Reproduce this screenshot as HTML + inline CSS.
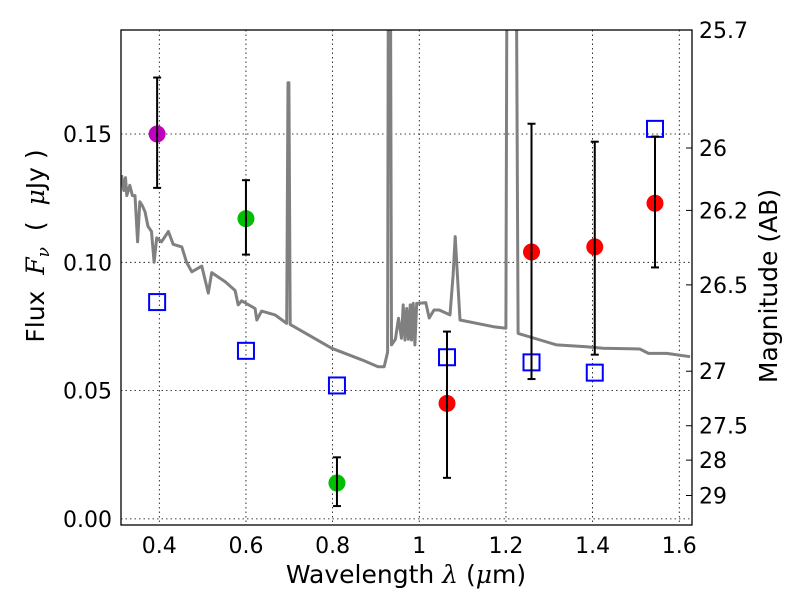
<!DOCTYPE html>
<html><head><meta charset="utf-8"><style>
body{margin:0;background:#fff}
svg{display:block;font-family:"DejaVu Sans","Liberation Sans",sans-serif}
</style></head><body>
<svg id="chart" width="800" height="600" viewBox="0 0 800 600">
<rect width="800" height="600" fill="#fff"/>
<defs><clipPath id="plotclip"><rect x="121" y="30" width="571" height="495"/></clipPath></defs>
<g id="grid"></g>
<g id="spec" clip-path="url(#plotclip)"></g>
<g id="marks" clip-path="url(#plotclip)"></g>
<rect x="121" y="30" width="571" height="495" fill="none" stroke="#000" stroke-width="1.3"/>
<g id="axes" font-size="22" fill="#000"></g>
<text x="406" y="583" font-size="25" text-anchor="middle">Wavelength  <tspan font-family="DejaVu Serif,serif" font-style="italic">λ</tspan> (<tspan font-family="DejaVu Serif,serif" font-style="italic">μ</tspan>m)</text>
<text transform="translate(44,246) rotate(-90)" font-size="25" text-anchor="middle" xml:space="preserve">Flux  <tspan font-family="DejaVu Serif,serif" font-style="italic">F<tspan font-size="17" dy="5">ν</tspan></tspan><tspan dy="-5">  (  </tspan><tspan font-family="DejaVu Serif,serif" font-style="italic">μ</tspan>Jy )</text>
<text transform="translate(777,286) rotate(-90)" font-size="25" text-anchor="middle">Magnitude (AB)</text>
</svg>
<script>
const xTicks=[0.4,0.6,0.8,1.0,1.2,1.4,1.6];
const xTickLabels=["0.4","0.6","0.8","1","1.2","1.4","1.6"];
const yTicks=[0,0.05,0.10,0.15];
const yTickLabels=["0.00","0.05","0.10","0.15"];
const magTicks=[25.7,26,26.2,26.5,27,27.5,28,29];
const magTickLabels=["25.7","26","26.2","26.5","27","27.5","28","29"];
const specLam=[0.313,0.318,0.322,0.325,0.332,0.338,0.344,0.350,0.355,0.361,0.367,0.374,0.382,0.388,0.394,0.405,0.421,0.432,0.452,0.463,0.475,0.498,0.513,0.521,0.552,0.575,0.582,0.590,0.621,0.625,0.636,0.667,0.694,0.697,0.699,0.702,0.711,0.798,0.867,0.905,0.919,0.927,0.929,0.933,0.936,0.945,0.952,0.959,0.963,0.967,0.971,0.975,0.979,0.982,0.986,0.990,0.994,0.998,1.015,1.023,1.034,1.046,1.071,1.078,1.083,1.088,1.094,1.171,1.2,1.203,1.223,1.228,1.279,1.317,1.386,1.424,1.509,1.529,1.571,1.625];
const specFlux=[0.134,0.128,0.133,0.126,0.130,0.126,0.126,0.108,0.1236,0.122,0.1197,0.114,0.112,0.100,0.1095,0.108,0.112,0.107,0.106,0.100,0.0963,0.0985,0.088,0.096,0.0924,0.089,0.0834,0.085,0.082,0.0775,0.081,0.0795,0.0762,0.170,0.170,0.0758,0.0749,0.0665,0.062,0.0593,0.0593,0.065,0.25,0.25,0.0678,0.070,0.0782,0.0704,0.0834,0.0697,0.082,0.0700,0.0834,0.0697,0.084,0.0678,0.084,0.084,0.0843,0.0783,0.0814,0.0814,0.0795,0.095,0.110,0.095,0.0775,0.0749,0.0743,0.25,0.25,0.0723,0.0697,0.0678,0.0671,0.0665,0.0662,0.0645,0.0645,0.0632];
const circLam=[0.395,0.60,0.81,1.064,1.259,1.405,1.544];
const circFlux=[0.150,0.117,0.014,0.045,0.104,0.106,0.123];
const errLow=[0.129,0.103,0.005,0.016,0.0545,0.064,0.098];
const errHigh=[0.172,0.132,0.024,0.073,0.154,0.147,0.149];
const circColors=["#bf00bf","#00bf00","#00bf00","#ff0000","#ff0000","#ff0000","#ff0000"];
const sqLam=[0.395,0.60,0.81,1.064,1.259,1.405,1.544];
const sqFlux=[0.0845,0.0655,0.052,0.063,0.061,0.057,0.152];

const X=l=>159.3+(l-0.4)*433.3;
const Y=f=>262.3-(f-0.1)*2566;
const magToFlux=m=>Math.pow(10,(23.9-m)/2.5);
const NS="http://www.w3.org/2000/svg";
function mk(tag,attrs,parent){const e=document.createElementNS(NS,tag);for(const k in attrs)e.setAttribute(k,attrs[k]);parent.appendChild(e);return e;}
const grid=document.getElementById('grid'),axes=document.getElementById('axes');
const spec=document.getElementById('spec'),marks=document.getElementById('marks');
xTicks.forEach((t,i)=>{
  const g=mk('line',{x1:X(t),x2:X(t),y1:30,y2:525,stroke:'#000','stroke-width':0.8,'stroke-dasharray':'1.5,3'},grid);
  
  
  const tx=mk('text',{x:X(t),y:553,'text-anchor':'middle'},axes);
  tx.textContent=xTickLabels[i];
  
  
});
yTicks.forEach((t,i)=>{
  const g=mk('line',{x1:121,x2:692,y1:Y(t),y2:Y(t),stroke:'#000','stroke-width':0.8,'stroke-dasharray':'1.5,3'},grid);
  
  
  const tx=mk('text',{x:112,y:Y(t)+8,'text-anchor':'end'},axes);
  tx.textContent=yTickLabels[i];
  
  
});
magTicks.forEach((m,i)=>{
  const y=Math.max(30,Y(magToFlux(m)));
  const tk=mk('line',{x1:686,x2:692,y1:y,y2:y,stroke:'#000','stroke-width':1},axes);
  
  
  const tx=mk('text',{x:699,y:y+8},axes);
  tx.textContent=magTickLabels[i];
  
  
});
const pts=specLam.map((l,i)=>X(l).toFixed(1)+','+Y(specFlux[i]).toFixed(1)).join(' ');
const pl=mk('polyline',{points:pts,fill:'none',stroke:'#808080','stroke-width':3,'stroke-linejoin':'round'},spec);


sqLam.forEach((l,i)=>{
  const r=mk('rect',{x:X(l)-8,y:Y(sqFlux[i])-8,width:16,height:16,fill:'none',stroke:'#0000ff','stroke-width':2},marks);
  
  
});
circLam.forEach((l,i)=>{
  const x=X(l);
  const c=mk('circle',{cx:x,cy:Y(circFlux[i]),r:8.5,fill:circColors[i]},marks);
  
  
  const e=mk('line',{x1:x,x2:x,y1:Y(errLow[i]),y2:Y(errHigh[i]),stroke:'#000','stroke-width':2},marks);
  
  
  [errLow[i],errHigh[i]].forEach(v=>{
    const cap=mk('line',{x1:x-4,x2:x+4,y1:Y(v),y2:Y(v),stroke:'#000','stroke-width':2},marks);
    
    
  });
});
</script>
</body></html>
